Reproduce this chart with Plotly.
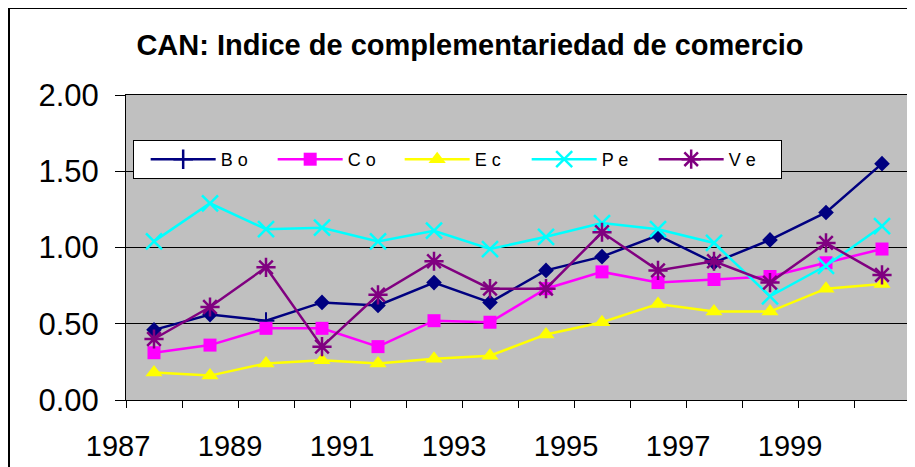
import plotly.graph_objects as go

years = list(range(1987, 2001))
bo = [0.46, 0.56, 0.52, 0.64, 0.62, 0.77, 0.64, 0.85, 0.94, 1.08, 0.90, 1.05, 1.23, 1.55]
co = [0.31, 0.36, 0.47, 0.47, 0.35, 0.52, 0.51, 0.73, 0.84, 0.77, 0.79, 0.81, 0.90, 0.99]
ec = [0.18, 0.16, 0.24, 0.26, 0.24, 0.27, 0.29, 0.43, 0.51, 0.63, 0.58, 0.58, 0.73, 0.76]
pe = [1.04, 1.29, 1.12, 1.13, 1.04, 1.11, 0.99, 1.07, 1.16, 1.12, 1.03, 0.68, 0.88, 1.14]
ve = [0.40, 0.61, 0.87, 0.35, 0.69, 0.91, 0.73, 0.73, 1.10, 0.85, 0.91, 0.77, 1.03, 0.82]

names = ["B o", "C o", "E c", "P e", "V e"]
tick_years = list(range(1987, 2002))
tick_labels = [str(y) if (y % 2 == 1 and y <= 1999) else "" for y in tick_years]

# points sit in the middle of each year slot
xs = [y + 0.5 for y in years]

FONT = "Arial, Liberation Sans, sans-serif"
NAVY, MAG, YEL, CYAN, PURP = "#000080", "#FF00FF", "#FFFF00", "#00FFFF", "#800080"
LW = 2.5

bo_symbols = ["diamond"] * len(bo)
bo_symbols[2] = "cross-thin-open"
bo_line_w = [0] * len(bo)
bo_line_w[2] = 2

fig = go.Figure()
# legend-only entry for Bo (Excel shows a plus sign in the legend)
fig.add_trace(go.Scatter(x=[None], y=[None], name=names[0], mode="lines+markers",
                         line=dict(color=NAVY, width=LW),
                         marker=dict(symbol="cross-thin-open", size=14,
                                     line=dict(color=NAVY, width=2.5))))
fig.add_trace(go.Scatter(x=xs, y=bo, name=names[0], mode="lines+markers", showlegend=False,
                         line=dict(color=NAVY, width=LW),
                         marker=dict(symbol=bo_symbols, size=12, color=NAVY,
                                     line=dict(color=NAVY, width=bo_line_w))))
fig.add_trace(go.Scatter(x=xs, y=co, name=names[1], mode="lines+markers",
                         line=dict(color=MAG, width=LW),
                         marker=dict(symbol="square", size=13, color=MAG)))
fig.add_trace(go.Scatter(x=xs, y=ec, name=names[2], mode="lines+markers",
                         line=dict(color=YEL, width=LW),
                         marker=dict(symbol="triangle-up", size=15, color=YEL)))
fig.add_trace(go.Scatter(x=xs, y=pe, name=names[3], mode="lines+markers",
                         line=dict(color=CYAN, width=LW),
                         marker=dict(symbol="x-thin-open", size=16,
                                     line=dict(color=CYAN, width=2.5))))
fig.add_trace(go.Scatter(x=xs, y=ve, name=names[4], mode="lines+markers",
                         line=dict(color=PURP, width=LW),
                         marker=dict(symbol="asterisk-open", size=16,
                                     line=dict(color=PURP, width=2.5))))

# the page body has an 8px margin, so the figure is laid out 8px smaller
OFF = 8
W, H = 915 - OFF, 467 - OFF
L, R, T, B = 118, 5, 87, 67
pw, ph = W - L - R, H - T - B

def px_x(p):
    return (p - OFF - L) / pw

def px_y(p):
    return (H - B - (p - OFF)) / ph

fig.update_layout(
    width=W, height=H, autosize=False,
    margin=dict(l=L, r=R, t=T, b=B, pad=0),
    paper_bgcolor="white", plot_bgcolor="#C0C0C0",
    font=dict(family=FONT, color="black"),
    title=dict(text="<b>CAN: Indice de complementariedad de comercio</b>",
               font=dict(family=FONT, size=29, color="black"),
               x=(470 - OFF) / W, xref="container", xanchor="center",
               y=1 - (45 - OFF) / H, yref="container", yanchor="middle"),
    showlegend=True,
    legend=dict(orientation="h", x=px_x(133), y=px_y(140), xanchor="left", yanchor="top",
                bgcolor="white", bordercolor="black", borderwidth=1,
                font=dict(family=FONT, size=18, color="black"),
                title=dict(text="\u00a0", side="left", font=dict(size=6)),
                itemwidth=65, entrywidth=47, entrywidthmode="pixels"),
    xaxis=dict(range=[1987, 2001], tickmode="array", tickvals=tick_years, ticktext=tick_labels,
               ticks="outside", ticklen=7, tickcolor="black", tickwidth=1,
               showline=True, linecolor="black", linewidth=1, mirror=True,
               showgrid=False, zeroline=False, ticklabelshift=-8, ticklabelstandoff=13,
               tickfont=dict(family=FONT, size=29, color="black")),
    yaxis=dict(range=[0, 2], tickmode="array", tickvals=[0, 0.5, 1.0, 1.5, 2.0],
               tickformat=".2f", ticks="outside", ticklen=10, tickcolor="black",
               showline=True, linecolor="black", linewidth=1, mirror=True,
               showgrid=True, gridcolor="black", gridwidth=1, zeroline=False,
               ticklabelstandoff=10,
               tickfont=dict(family=FONT, size=31, color="black")),
)

# outer chart-area border (extends past the right and bottom edges)
fig.add_shape(type="rect", xref="paper", yref="paper",
              x0=px_x(9), x1=px_x(940), y0=px_y(8), y1=px_y(490),
              line=dict(color="black", width=2), fillcolor="rgba(0,0,0,0)", layer="above")

fig.write_html("out.html")
